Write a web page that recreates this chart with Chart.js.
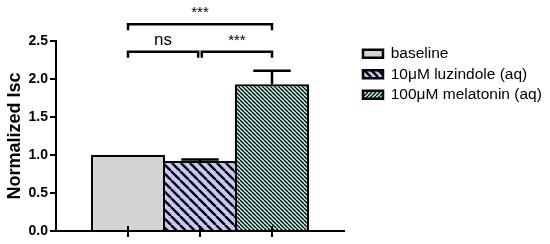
<!DOCTYPE html>
<html><head><meta charset="utf-8">
<script src="https://cdn.jsdelivr.net/npm/chart.js@4"></script>
<style>html,body{margin:0;padding:0;background:#fff;overflow:hidden;}</style>
</head><body>
<canvas id="c" width="550" height="244"></canvas>
<script>
// ---- data ----
const categories = ['baseline', '10\u03bcM luzindole (aq)', '100\u03bcM melatonin (aq)'];
const positions = [1, 2, 3];
const values = [1.00, 0.92, 1.93];
const errors = [0, 0.022, 0.18];
const yTicks = [0, 0.5, 1.0, 1.5, 2.0, 2.5];
const bracketFrom = [1, 1, 2];
const bracketTo = [3, 2, 3];
const bracketLevel = [2.72, 2.36, 2.36];
const bracketLabel = ['***', 'ns', '***'];

// ---- styles ----
const FONT = "'Liberation Sans', Arial, Helvetica, sans-serif";
Chart.defaults.font.family = FONT;
Chart.defaults.color = '#000';
const canvas = document.getElementById('c');
const mainCtx = canvas.getContext('2d');
const LEGEND_W = 192;

function stripes(bg, s, lw, dir) {
  const c = document.createElement('canvas');
  c.width = s; c.height = s;
  const g = c.getContext('2d');
  g.fillStyle = bg; g.fillRect(0, 0, s, s);
  g.strokeStyle = '#000'; g.lineWidth = lw;
  g.beginPath();
  for (let k = -1; k <= 1; k++) {
    if (dir === '\\') { g.moveTo(k * s, 0); g.lineTo(k * s + s, s); }
    else { g.moveTo(k * s, s); g.lineTo(k * s + s, 0); }
  }
  g.stroke();
  return mainCtx.createPattern(c, 'repeat');
}

const barFills = ['#d4d4d4', stripes('#c8c8f8', 9, 2.4, '\\'), stripes('#b2f2e4', 4, 1.3, '\\')];
const legendFills = ['#d4d4d4', stripes('#c8c8f8', 7, 2.4, '\\'), stripes('#b2f2e4', 4, 1.3, '/')];

const legendWidth = {
  id: 'legendWidth',
  afterInit(chart) {
    const lg = chart.legend;
    if (!lg) return;
    const f = lg.fit;
    lg.fit = function () { f.call(this); this.width = LEGEND_W; };
  }
};

const annot = {
  id: 'annot',
  afterDatasetsDraw(chart) {
    const {ctx} = chart;
    const x = chart.scales.x, y = chart.scales.y;
    ctx.save();
    ctx.strokeStyle = '#000';
    ctx.fillStyle = '#000';
    ctx.lineWidth = 2.5;
    // error bars (upper only)
    positions.forEach((p, i) => {
      if (!errors[i]) return;
      const px = x.getPixelForValue(p);
      const y0 = y.getPixelForValue(values[i]);
      const y1 = y.getPixelForValue(values[i] + errors[i]);
      const hw = x.getPixelForValue(p + 0.26) - px;
      ctx.beginPath();
      ctx.moveTo(px, y0); ctx.lineTo(px, y1);
      ctx.moveTo(px - hw, y1); ctx.lineTo(px + hw, y1);
      ctx.stroke();
    });
    // x tick marks crossing the axis
    ctx.lineWidth = 2;
    const yb = y.getPixelForValue(0);
    positions.forEach(p => {
      const px = x.getPixelForValue(p);
      ctx.beginPath(); ctx.moveTo(px, yb - 5); ctx.lineTo(px, yb + 6); ctx.stroke();
    });
    // significance brackets
    ctx.lineWidth = 2.5;
    ctx.lineJoin = 'miter';
    ctx.textAlign = 'center';
    ctx.textBaseline = 'alphabetic';
    bracketFrom.forEach((f, i) => {
      const t = bracketTo[i];
      const shareL = bracketTo.some((tt, j) => j !== i && bracketLevel[j] === bracketLevel[i] && tt === f);
      const shareR = bracketFrom.some((ff, j) => j !== i && bracketLevel[j] === bracketLevel[i] && ff === t);
      const xa = x.getPixelForValue(f) + (shareL ? 1.8 : 0);
      const xb = x.getPixelForValue(t) - (shareR ? 1.8 : 0);
      const py = y.getPixelForValue(bracketLevel[i]);
      ctx.beginPath();
      ctx.moveTo(xa, py + 6); ctx.lineTo(xa, py); ctx.lineTo(xb, py); ctx.lineTo(xb, py + 6);
      ctx.stroke();
      const lab = bracketLabel[i];
      ctx.font = (lab === 'ns' ? '17px ' : '15px ') + FONT;
      ctx.fillText(lab, (xa + xb) / 2, py - 7);
    });
    ctx.restore();
  }
};

new Chart(canvas, {
  type: 'bar',
  data: {
    datasets: [{
      data: positions.map((p, i) => ({x: p, y: values[i]})),
      backgroundColor: barFills,
      borderColor: '#000',
      borderWidth: 2.2,
      barPercentage: 1.03,
      categoryPercentage: 1
    }]
  },
  plugins: [legendWidth, annot],
  options: {
    responsive: false,
    animation: false,
    devicePixelRatio: 1,
    layout: {padding: {top: 41, left: 0, right: 0, bottom: 0}},
    scales: {
      x: {
        type: 'linear', min: 0, max: 4, offset: false,
        afterBuildTicks: s => { s.ticks = positions.map(v => ({value: v})); },
        ticks: {display: false},
        grid: {display: false},
        border: {display: true, color: '#000', width: 2},
        afterFit: s => { s.height = 13; }
      },
      y: {
        min: 0, max: 2.5,
        afterBuildTicks: s => { s.ticks = yTicks.map(v => ({value: v})); },
        ticks: {callback: v => Number(v).toFixed(1), font: {size: 14, weight: 'bold'}, color: '#000', padding: 2},
        grid: {display: true, drawOnChartArea: false, drawTicks: true, tickLength: 6, color: '#000', lineWidth: 2},
        border: {display: true, color: '#000', width: 2},
        title: {display: true, text: 'Normalized Isc', font: {size: 18, weight: 'bold'}, color: '#000', padding: {top: 4, bottom: 0}},
        afterFit: s => { s.width = 56; }
      },
      y2: {
        position: 'right', display: true,
        grid: {display: false}, border: {display: false}, ticks: {display: false},
        afterFit: s => { s.width = 14; }
      }
    },
    plugins: {
      tooltip: {enabled: false},
      legend: {
        position: 'right', align: 'start', fullSize: false,
        onClick: () => {},
        labels: {
          boxWidth: 20, boxHeight: 8, padding: 5, color: '#000',
          font: {size: 15.5},
          generateLabels: () => categories.map((t, i) => ({
            text: t, fillStyle: legendFills[i], strokeStyle: '#000', lineWidth: 2.5,
            hidden: false, datasetIndex: 0, index: i
          }))
        }
      }
    }
  }
});
</script>
</body></html>
